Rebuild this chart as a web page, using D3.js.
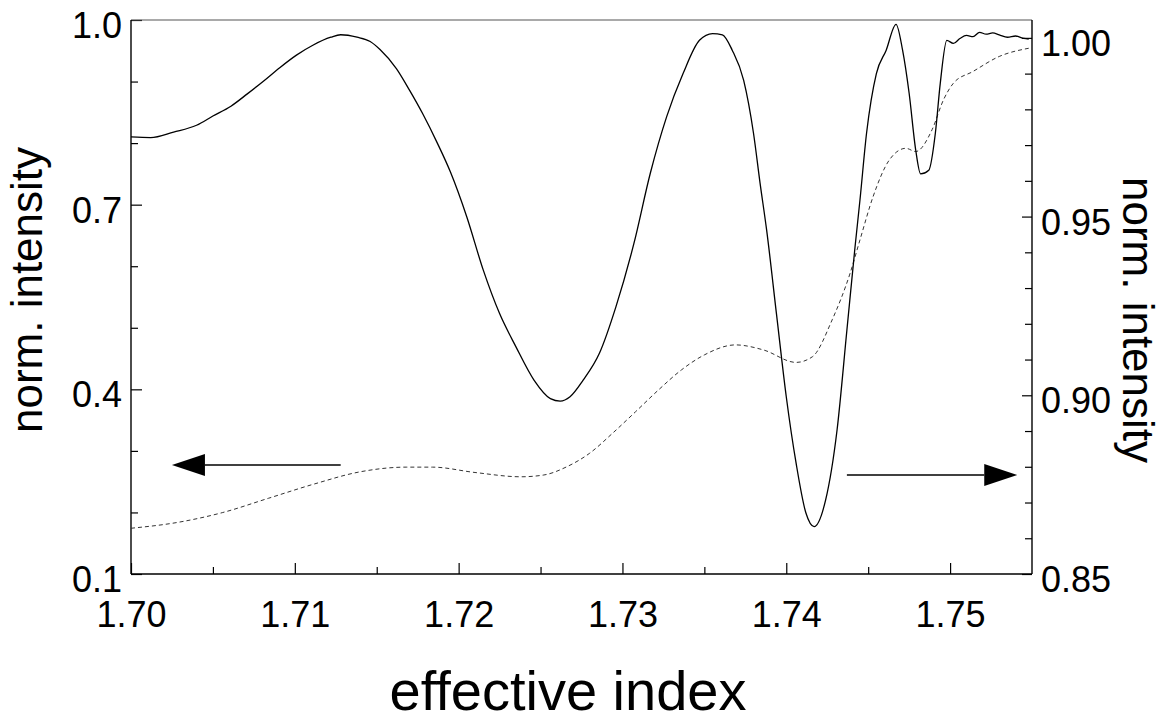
<!DOCTYPE html>
<html>
<head>
<meta charset="utf-8">
<script src="https://cdn.jsdelivr.net/npm/d3@7"></script>
<style>
  html, body { margin: 0; padding: 0; background: #fff; }
  svg { display: block; }
  text { font-family: "Liberation Sans", Arial, Helvetica, sans-serif; fill: #000; }
  .axis path.domain { display: none; }
  .axis line { stroke: #000; stroke-width: 1.2; }
  .axis text { font-size: 36px; }
</style>
</head>
<body>
<svg id="chart" width="1166" height="725"></svg>
<script>
const measIndex = [1.7000, 1.7012, 1.7026, 1.7040, 1.7050, 1.7061, 1.7071, 1.7081, 1.7091, 1.7101,
  1.7111, 1.7122, 1.7128, 1.7138, 1.7146, 1.7152, 1.7162, 1.7170, 1.7178, 1.7187, 1.7195,
  1.7205, 1.7215, 1.7225, 1.7235, 1.7246, 1.7256, 1.7262, 1.7268, 1.7276, 1.7286, 1.7296,
  1.7307, 1.7317, 1.7327, 1.7337, 1.7347, 1.7355, 1.7361, 1.7367, 1.7374, 1.7380, 1.7384,
  1.7388, 1.7394, 1.7400, 1.7406, 1.7412, 1.7417, 1.7424, 1.7431, 1.7437, 1.7442, 1.7445,
  1.7449, 1.7455, 1.7461, 1.7467, 1.7471, 1.7475, 1.7479, 1.7482, 1.7487, 1.7491, 1.7494,
  1.7498, 1.7502, 1.7506, 1.7510, 1.7514, 1.7518, 1.7522, 1.7526, 1.7530, 1.7535, 1.7540,
  1.7545, 1.7548];
const measValue = [0.810, 0.809, 0.818, 0.829, 0.844, 0.860, 0.880, 0.901, 0.923, 0.943,
  0.959, 0.972, 0.976, 0.972, 0.965, 0.952, 0.921, 0.886, 0.848, 0.800, 0.753,
  0.680, 0.594, 0.523, 0.469, 0.415, 0.385, 0.381, 0.388, 0.415, 0.459, 0.534,
  0.637, 0.751, 0.843, 0.913, 0.967, 0.978, 0.976, 0.951, 0.902, 0.816, 0.735,
  0.659, 0.523, 0.388, 0.280, 0.199, 0.177, 0.220, 0.334, 0.496, 0.632, 0.708,
  0.816, 0.913, 0.951, 0.993, 0.951, 0.881, 0.789, 0.750, 0.756, 0.816, 0.897,
  0.967, 0.962, 0.970, 0.975, 0.973, 0.980, 0.977, 0.979, 0.976, 0.972, 0.974,
  0.970, 0.969];

// calculated transmission (right axis)
const calcIndex = [1.7000, 1.7028, 1.7056, 1.7084, 1.7112, 1.7140, 1.7168, 1.7184, 1.7210,
  1.7238, 1.7252, 1.7266, 1.7280, 1.7294, 1.7308, 1.7322, 1.7336, 1.7350, 1.7369, 1.7386,
  1.7406, 1.7416, 1.7428, 1.7439, 1.7445, 1.7453, 1.7463, 1.7473, 1.7479, 1.7489, 1.7496,
  1.7502, 1.7514, 1.7530, 1.7548];
const calcValue = [0.8628, 0.8644, 0.8672, 0.8712, 0.8752, 0.8786, 0.8799, 0.8799, 0.8784,
  0.8772, 0.8777, 0.8800, 0.8838, 0.8894, 0.8954, 0.9015, 0.9071, 0.9113, 0.9141, 0.9127,
  0.9092, 0.9108, 0.9211, 0.9342, 0.9435, 0.9556, 0.9659, 0.9691, 0.9682, 0.9743, 0.9827,
  0.9873, 0.9906, 0.9948, 0.9971];

const xDomain = [1.70, 1.755];
const leftDomain = [0.1, 1.0];
const rightDomain = [0.85, 1.005];
const xMajor = [1.70, 1.71, 1.72, 1.73, 1.74, 1.75];
const xMinor = [1.705, 1.715, 1.725, 1.735, 1.745];
const leftMajor = [0.1, 0.4, 0.7, 1.0];
const leftMinor = [0.2, 0.3, 0.5, 0.6, 0.8, 0.9];
const rightMajor = [0.85, 0.90, 0.95, 1.00];
const rightMinor = [0.86, 0.87, 0.88, 0.89, 0.91, 0.92, 0.93, 0.94, 0.96, 0.97, 0.98, 0.99];

// arrow annotations: [x start, x tip, y] in data units of the axis they point at
const leftArrow = [1.7128, 1.7025, 0.277];
const rightArrow = [1.7437, 1.7541, 0.8777];

const margin = { top: 20, right: 134, bottom: 151, left: 131 };
const width = 1166, height = 725;
const w = width - margin.left - margin.right;
const h = height - margin.top - margin.bottom;

const svg = d3.select('#chart');
const g = svg.append('g').attr('transform', `translate(${margin.left},${margin.top})`);

const x = d3.scaleLinear().domain(xDomain).range([0, w]);
const yL = d3.scaleLinear().domain(leftDomain).range([h, 0]);
const yR = d3.scaleLinear().domain(rightDomain).range([h, 0]);

// minor ticks
g.append('g').attr('class', 'axis').attr('transform', `translate(0,${h})`)
    .call(d3.axisBottom(x).tickValues(xMinor).tickSize(-7).tickFormat(''));
g.append('g').attr('class', 'axis')
    .call(d3.axisLeft(yL).tickValues(leftMinor).tickSize(-7).tickFormat(''));
g.append('g').attr('class', 'axis').attr('transform', `translate(${w},0)`)
    .call(d3.axisRight(yR).tickValues(rightMinor).tickSize(-7).tickFormat(''));

// major ticks + labels
g.append('g').attr('class', 'axis').attr('transform', `translate(0,${h})`)
    .call(d3.axisBottom(x).tickValues(xMajor).tickSize(-11).tickPadding(27).tickFormat(d3.format('.2f')));
g.append('g').attr('class', 'axis')
    .call(d3.axisLeft(yL).tickValues(leftMajor).tickSize(-11).tickPadding(9).tickFormat(d3.format('.1f')))
    .selectAll('text').attr('dy', '0.49em');
g.append('g').attr('class', 'axis').attr('transform', `translate(${w},0)`)
    .call(d3.axisRight(yR).tickValues(rightMajor).tickSize(-10).tickPadding(9).tickFormat(d3.format('.2f')))
    .selectAll('text').attr('dy', '0.49em');

// frame
g.append('line').attr('x1', 0).attr('x2', w).attr('y1', 0).attr('y2', 0)
    .attr('stroke', '#555').attr('stroke-width', 1.2);
g.append('line').attr('x1', 0).attr('x2', w).attr('y1', h).attr('y2', h)
    .attr('stroke', '#000').attr('stroke-width', 1.4);
g.append('line').attr('x1', 0).attr('x2', 0).attr('y1', 0).attr('y2', h)
    .attr('stroke', '#000').attr('stroke-width', 1.4);
g.append('line').attr('x1', w).attr('x2', w).attr('y1', 0).attr('y2', h)
    .attr('stroke', '#000').attr('stroke-width', 1.4);

// curves
const calc = calcIndex.map((d, i) => ({ x: d, v: calcValue[i] }));
const meas = measIndex.map((d, i) => ({ x: d, v: measValue[i] }));

g.append('path')
    .datum(calc)
    .attr('fill', 'none')
    .attr('stroke', '#333')
    .attr('stroke-width', 1)
    .attr('stroke-dasharray', '4,3')
    .attr('d', d3.line().x(d => x(d.x)).y(d => yR(d.v)).curve(d3.curveMonotoneX));

g.append('path')
    .datum(meas)
    .attr('fill', 'none')
    .attr('stroke', '#000')
    .attr('stroke-width', 1.3)
    .attr('d', d3.line().x(d => x(d.x)).y(d => yL(d.v)).curve(d3.curveMonotoneX));

// arrows
function drawArrow(spec, yScale) {
    const x0 = x(spec[0]), x1 = x(spec[1]), yy = yScale(spec[2]);
    const dir = Math.sign(x1 - x0);
    const headLen = 33, headHalf = 11;
    g.append('line')
        .attr('x1', x0).attr('x2', x1 - dir * headLen)
        .attr('y1', yy).attr('y2', yy)
        .attr('stroke', '#000').attr('stroke-width', 1.5);
    g.append('path')
        .attr('d', `M${x1},${yy}L${x1 - dir * headLen},${yy - headHalf}L${x1 - dir * headLen},${yy + headHalf}Z`)
        .attr('fill', '#000');
}
drawArrow(leftArrow, yL);
drawArrow(rightArrow, yR);

// axis titles
svg.append('text')
    .attr('x', 568).attr('y', 710)
    .attr('text-anchor', 'middle')
    .style('font-size', '56px')
    .text('effective index');

svg.append('text')
    .attr('transform', 'translate(42,290) rotate(-90)')
    .attr('text-anchor', 'middle')
    .style('font-size', '44px')
    .text('norm. intensity');

svg.append('text')
    .attr('transform', 'translate(1123,320) rotate(90)')
    .attr('text-anchor', 'middle')
    .style('font-size', '44px')
    .text('norm. intensity');
</script>
</body>
</html>
